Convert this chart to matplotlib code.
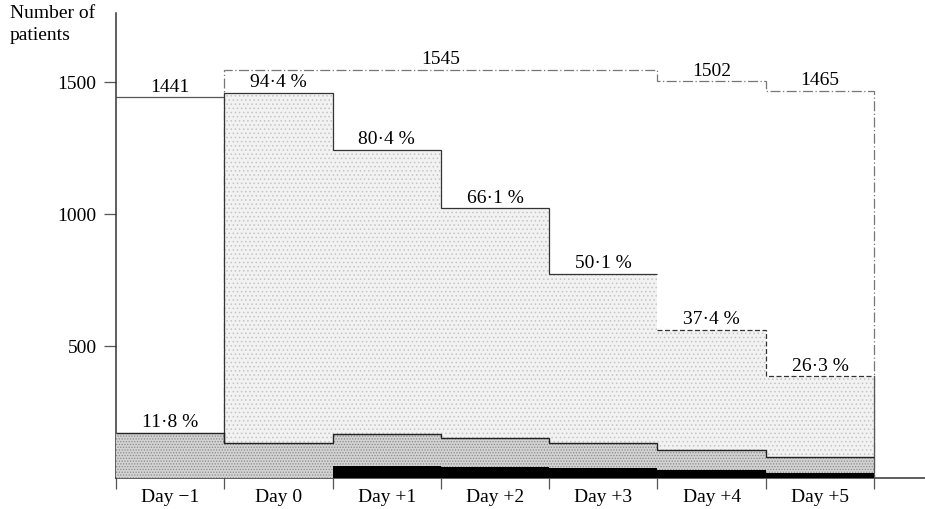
import numpy as np
import matplotlib.pyplot as plt

plt.rcParams['font.family'] = ['Liberation Serif', 'DejaVu Serif']
plt.rcParams['hatch.linewidth'] = 0.6

days = ["Day \u22121", "Day 0", "Day +1", "Day +2", "Day +3", "Day +4", "Day +5"]
totals = [1441, 1545, 1545, 1545, 1545, 1502, 1465]
pct_labels = ["11\u00b78 %", "94\u00b74 %", "80\u00b74 %", "66\u00b71 %", "50\u00b71 %", "37\u00b74 %", "26\u00b73 %"]
shaded = [np.nan, 1458, 1242, 1021, 774, 562, 385]
band = [170, 131, 167, 150, 132, 105, 80]
black = [0, 0, 45, 42, 37, 30, 20]

# which totals get a number written over them, and where (bin centre)
total_text = ["1441", "1545", "1502", "1465"]
total_text_x = [0.5, 3.0, 5.5, 6.5]
total_text_y = [1441, 1545, 1502, 1465]

x = np.arange(len(days))
edges = np.arange(len(days) + 1)
line_c = '#333333'

fig = plt.figure(figsize=(9.25, 5.10), dpi=100)
ax = fig.add_axes([116 / 925, 31 / 510, 1 - 116 / 925, 465 / 510])

# outer totals
ax.stairs([totals[0]], edges[:2], baseline=None, color='#555555', lw=0.9, zorder=1)
ax.stairs(totals[1:], edges[1:], baseline=0, color='#777777', lw=0.9,
          linestyle=(0, (8, 2, 1, 2)), zorder=1)

# light stippled region
ax.bar(x, shaded, width=1, align='edge', color='#f2f2f2', hatch='....',
       edgecolor='#c4c4c4', lw=0, zorder=2)
ax.stairs(shaded[1:5], edges[1:6], baseline=None, color=line_c, lw=0.9, zorder=4)
ax.stairs(shaded[5:], edges[5:], baseline=None, color=line_c, lw=0.9,
          linestyle=(0, (4, 2)), zorder=4)
ax.plot([1, 1], [band[1], shaded[1]], color=line_c, lw=0.9, zorder=4)
ax.plot([7, 7], [0, shaded[-1]], color='#555555', lw=0.9, zorder=4)

# denser band at the bottom
ax.bar(x, band, width=1, align='edge', color='#d3d3d3', hatch='......',
       edgecolor='#8a8a8a', lw=0, zorder=3)
ax.stairs(band, edges, baseline=None, color='#222222', lw=1.0, zorder=4)

# black bars
ax.bar(x, black, width=1, align='edge', color='black', lw=0, zorder=5)

# labels
for xi, lab, s, b in zip(x, pct_labels, shaded, band):
    y = b if np.isnan(s) else s
    ax.annotate(lab, (xi + 0.5, y), xytext=(0, 2), textcoords='offset points',
                ha='center', va='bottom', fontsize=14, zorder=6)
for lab, tx, ty in zip(total_text, total_text_x, total_text_y):
    ax.annotate(lab, (tx, ty), xytext=(0, 2), textcoords='offset points',
                ha='center', va='bottom', fontsize=14, zorder=6)

ax.set_xlim(0, 7.47)
ax.set_ylim(0, 1761)
ax.set_yticks([500, 1000, 1500])
ax.set_yticklabels(["500", "1000", "1500"], fontsize=14)
ax.tick_params(axis='y', length=9, width=0.9, color='#555555', pad=5)

ax.set_xticks(edges)
ax.set_xticklabels([])
ax.set_xticks(x + 0.5, minor=True)
ax.set_xticklabels(days, minor=True, fontsize=14)
ax.tick_params(axis='x', which='major', length=8, width=0.9, color='#555555')
ax.tick_params(axis='x', which='minor', length=0, pad=7)

for side in ['top', 'right']:
    ax.spines[side].set_visible(False)
for side in ['left', 'bottom']:
    ax.spines[side].set_color('#333333')
    ax.spines[side].set_linewidth(1.1)

fig.text(10 / 925, 1 - 5 / 510, "Number of\npatients", ha='left', va='top',
         fontsize=14, linespacing=1.4)

fig.savefig("out.png", dpi=100)
